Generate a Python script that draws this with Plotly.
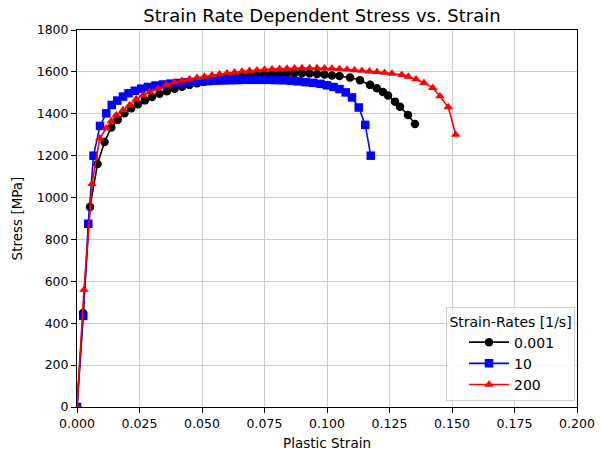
import plotly.graph_objects as go

# ---- data ----
strain_0001 = [0.0000, 0.0024, 0.0052, 0.0082, 0.0110, 0.0137, 0.0163, 0.0190, 0.0217, 0.0244,
               0.0272, 0.0300, 0.0330, 0.0360, 0.0390, 0.0420, 0.0450, 0.0480, 0.0510, 0.0540,
               0.0570, 0.0600, 0.0630, 0.0660, 0.0690, 0.0720, 0.0750, 0.0780, 0.0810, 0.0840,
               0.0870, 0.0900, 0.0930, 0.0960, 0.0990, 0.1020, 0.1050, 0.1092, 0.1132, 0.1172,
               0.1199, 0.1224, 0.1244, 0.1272, 0.1292, 0.1324, 0.1352]
stress_0001 = [0, 449, 955, 1160, 1265, 1335, 1372, 1402, 1426, 1446,
               1464, 1480, 1496, 1508, 1519, 1529, 1538, 1546, 1553, 1559,
               1565, 1570, 1574, 1578, 1582, 1585, 1587, 1589, 1591, 1592,
               1593, 1593, 1592, 1590, 1587, 1583, 1580, 1573, 1560, 1538,
               1522, 1504, 1487, 1458, 1434, 1394, 1351]

strain_10 = [0.0000, 0.0025, 0.0045, 0.0066, 0.0092, 0.0117, 0.0139, 0.0161, 0.0184, 0.0206,
             0.0231, 0.0257, 0.0284, 0.0314, 0.0344, 0.0374, 0.0404, 0.0434, 0.0464, 0.0494,
             0.0524, 0.0554, 0.0584, 0.0614, 0.0644, 0.0674, 0.0704, 0.0734, 0.0764, 0.0794,
             0.0824, 0.0854, 0.0884, 0.0914, 0.0944, 0.0974, 0.1000, 0.1026, 0.1050, 0.1075,
             0.1100, 0.1127, 0.1153, 0.1175]
stress_10 = [0, 435, 875, 1200, 1342, 1402, 1442, 1463, 1482, 1498,
             1510, 1520, 1528, 1535, 1540, 1544, 1547, 1550, 1552, 1554,
             1556, 1558, 1559, 1560, 1561, 1562, 1562, 1562, 1562, 1561,
             1560, 1558, 1555, 1551, 1548, 1543, 1536, 1528, 1518, 1502,
             1478, 1430, 1347, 1200]

strain_200 = [0.0000, 0.0028, 0.0060, 0.0091, 0.0117, 0.0137, 0.0157, 0.0184, 0.0211, 0.0237,
              0.0264, 0.0291, 0.0324, 0.0357, 0.0390, 0.0420, 0.0450, 0.0480, 0.0510, 0.0540,
              0.0570, 0.0600, 0.0630, 0.0660, 0.0690, 0.0720, 0.0750, 0.0780, 0.0810, 0.0840,
              0.0870, 0.0900, 0.0930, 0.0960, 0.0990, 0.1020, 0.1050, 0.1080, 0.1110, 0.1140,
              0.1170, 0.1200, 0.1230, 0.1260, 0.1299, 0.1325, 0.1356, 0.1388, 0.1423, 0.1452,
              0.1485, 0.1515]
stress_200 = [0, 560, 1065, 1283, 1331, 1365, 1394, 1418, 1442, 1470,
              1488, 1504, 1520, 1538, 1550, 1558, 1565, 1572, 1578, 1584,
              1589, 1594, 1598, 1602, 1605, 1608, 1611, 1613, 1615, 1616,
              1617, 1618, 1618, 1618, 1617, 1616, 1614, 1612, 1609, 1606,
              1603, 1600, 1596, 1592, 1586, 1578, 1565, 1548, 1524, 1484,
              1432, 1300]

series_names = ["0.001", "10", "200"]
x_ticks = [0.0, 0.025, 0.05, 0.075, 0.1, 0.125, 0.15, 0.175, 0.2]
y_ticks = [0, 200, 400, 600, 800, 1000, 1200, 1400, 1600, 1800]

FONT = "DejaVu Sans"

fig = go.Figure()
styles = [("black", "circle"), ("#0000ff", "square"), ("#ff0000", "triangle-up")]
datasets = [(strain_0001, stress_0001), (strain_10, stress_10), (strain_200, stress_200)]
for (xs, ys), name, (col, sym) in zip(datasets, series_names, styles):
    fig.add_trace(go.Scatter(
        x=xs, y=ys, name=name, mode="lines+markers",
        line=dict(color=col, width=1.6),
        marker=dict(color=col, symbol=sym, size=8.5, line=dict(width=0)),
    ))

axis_common = dict(
    showline=True, linecolor="black", linewidth=1, mirror=True,
    ticks="outside", ticklen=5, tickcolor="black", tickwidth=1,
    showgrid=True, gridcolor="#cbcbcb", gridwidth=1,
    zeroline=False, automargin=False,
    tickfont=dict(family=FONT, size=12.5, color="black"),
)

fig.update_layout(
    width=601, height=454,
    margin=dict(l=77, r=24, t=30, b=47),
    paper_bgcolor="white", plot_bgcolor="white",
    font=dict(family=FONT, size=12, color="black"),
    title=dict(text="Strain Rate Dependent Stress vs. Strain", x=0.49, xref="paper",
               xanchor="center",
               y=1 - 16 / 454, yanchor="middle",
               font=dict(family=FONT, size=18, color="black")),
    xaxis=dict(range=[0, 0.2], tickvals=x_ticks,
               ticktext=[f"{v:.3f}" for v in x_ticks],
               title=dict(text="Plastic Strain", font=dict(family=FONT, size=13.5), standoff=8),
               **axis_common),
    yaxis=dict(range=[0, 1800], tickvals=y_ticks,
               title=dict(text="Stress [MPa]", font=dict(family=FONT, size=13.5), standoff=10),
               **axis_common),
    legend=dict(
        title=dict(text="Strain-Rates [1/s]", side="top center",
                   font=dict(family=FONT, size=14, color="black")),
        x=0.996, y=0.015, xanchor="right", yanchor="bottom",
        bgcolor="rgba(255,255,255,0.85)", bordercolor="#d0d0d0", borderwidth=1,
        font=dict(family=FONT, size=14, color="black"),
        itemwidth=40, tracegroupgap=0, indentation=17,
    ),
    showlegend=True,
)

fig.write_html("out.html")
